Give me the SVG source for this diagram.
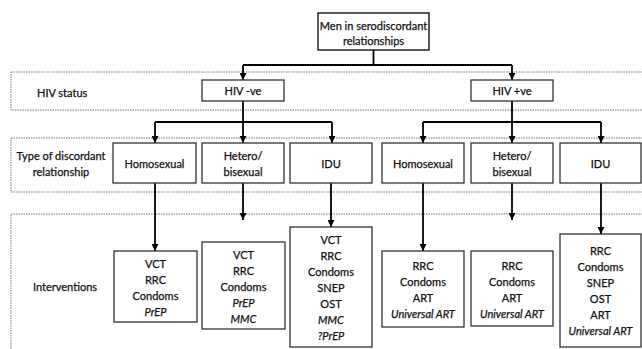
<svg xmlns="http://www.w3.org/2000/svg" width="642" height="349" viewBox="0 0 642 349">
<defs>
<style>
text{font-family:Lato,"Open Sans","Liberation Sans",sans-serif;font-size:11px;fill:#111;stroke:#111;stroke-width:0.25;text-anchor:middle;dominant-baseline:central}
.l{text-anchor:start}
.i{font-style:italic}
.box{fill:#fff;stroke:#333;stroke-width:1.3}
.band{fill:none;stroke:#777;stroke-width:1;stroke-dasharray:1.5,1}
.c{fill:none;stroke:#000;stroke-width:1.8}
</style>
<marker id="ah" viewBox="0 0 8 8" refX="8" refY="4" markerWidth="7" markerHeight="7" markerUnits="userSpaceOnUse" orient="auto"><path d="M0,0 L8,4 L0,8 z" fill="#000"/></marker>
</defs>
<rect width="642" height="349" fill="#fff"/>
<g id="bands">
<rect class="band" x="11" y="72" width="640" height="38"/>
<rect class="band" x="11" y="138" width="640" height="54"/>
<rect class="band" x="11" y="214" width="640" height="150"/>
<text class="l" x="37" y="92">HIV status</text>
<text x="61" y="155">Type of discordant</text>
<text x="61" y="171">relationship</text>
<text class="l" x="33" y="286">Interventions</text>
</g>
<g id="connectors">
<path class="c" d="M373.5,50 V65 M243,65 H512"/>
<path class="c" d="M243,65 V80" marker-end="url(#ah)"/>
<path class="c" d="M512,65 V80" marker-end="url(#ah)"/>
<path class="c" d="M243,101 V122 M155,122 H332"/>
<path class="c" d="M155,122 V143" marker-end="url(#ah)"/>
<path class="c" d="M243,122 V143" marker-end="url(#ah)"/>
<path class="c" d="M332,122 V143" marker-end="url(#ah)"/>
<path class="c" d="M512,101 V122 M423,122 H601"/>
<path class="c" d="M423,122 V143" marker-end="url(#ah)"/>
<path class="c" d="M512,122 V143" marker-end="url(#ah)"/>
<path class="c" d="M601,122 V143" marker-end="url(#ah)"/>
<path class="c" d="M155,183 V251" marker-end="url(#ah)"/>
<path class="c" d="M243,183 V220" marker-end="url(#ah)"/>
<path class="c" d="M331,183 V227" marker-end="url(#ah)"/>
<path class="c" d="M423,183 V251" marker-end="url(#ah)"/>
<path class="c" d="M512,183 V220" marker-end="url(#ah)"/>
<path class="c" d="M601,183 V234" marker-end="url(#ah)"/>
</g>
<g id="root"><rect class="box" x="318" y="13" width="111" height="37" stroke-width="1.8" style="stroke:#000"/><text x="373.5" y="25">Men in serodiscordant</text><text x="373.5" y="40">relationships</text></g>
<g id="hivneg"><rect class="box" x="202" y="80" width="82" height="21"/><text x="243" y="90.5">HIV -ve</text></g>
<g id="hivpos"><rect class="box" x="471" y="80" width="82" height="21"/><text x="512" y="90.5">HIV +ve</text></g>
<g id="homoL"><rect class="box" x="113" y="143" width="83" height="40"/><text x="154.5" y="163">Homosexual</text></g>
<g id="hetL"><rect class="box" x="202" y="143" width="82" height="40"/><text x="243" y="155">Hetero/</text><text x="243" y="171">bisexual</text></g>
<g id="iduL"><rect class="box" x="290" y="143" width="82" height="40"/><text x="331" y="163">IDU</text></g>
<g id="homoR"><rect class="box" x="382" y="143" width="82" height="40"/><text x="423" y="163">Homosexual</text></g>
<g id="hetR"><rect class="box" x="471" y="143" width="82" height="40"/><text x="512" y="155">Hetero/</text><text x="512" y="171">bisexual</text></g>
<g id="iduR"><rect class="box" x="560" y="143" width="81" height="40"/><text x="600.5" y="163">IDU</text></g>
<g id="intHomoL"><rect class="box" x="114" y="251" width="83" height="71"/><text x="155.5" y="263">VCT</text><text x="155.5" y="279">RRC</text><text x="155.5" y="295">Condoms</text><text class="i" x="155.5" y="311">PrEP</text></g>
<g id="intHetL"><rect class="box" x="202" y="242" width="83" height="87"/><text x="243.5" y="254">VCT</text><text x="243.5" y="270">RRC</text><text x="243.5" y="286">Condoms</text><text class="i" x="243.5" y="302">PrEP</text><text class="i" x="243.5" y="318">MMC</text></g>
<g id="intIduL"><rect class="box" x="290" y="227" width="82" height="120"/><text x="331" y="239">VCT</text><text x="331" y="255">RRC</text><text x="331" y="271">Condoms</text><text x="331" y="287">SNEP</text><text x="331" y="303">OST</text><text class="i" x="331" y="319">MMC</text><text class="i" x="331" y="335">?PrEP</text></g>
<g id="intHomoR"><rect class="box" x="382" y="251" width="82" height="76"/><text x="423" y="265">RRC</text><text x="423" y="281">Condoms</text><text x="423" y="297">ART</text><text class="i" x="423" y="313">Universal ART</text></g>
<g id="intHetR"><rect class="box" x="471" y="251" width="82" height="75"/><text x="512" y="265">RRC</text><text x="512" y="281">Condoms</text><text x="512" y="297">ART</text><text class="i" x="512" y="313">Universal ART</text></g>
<g id="intIduR"><rect class="box" x="560" y="234" width="81" height="113"/><text x="600.5" y="250">RRC</text><text x="600.5" y="266">Condoms</text><text x="600.5" y="282">SNEP</text><text x="600.5" y="298">OST</text><text x="600.5" y="314">ART</text><text class="i" x="600.5" y="330">Universal ART</text></g>
</svg>
